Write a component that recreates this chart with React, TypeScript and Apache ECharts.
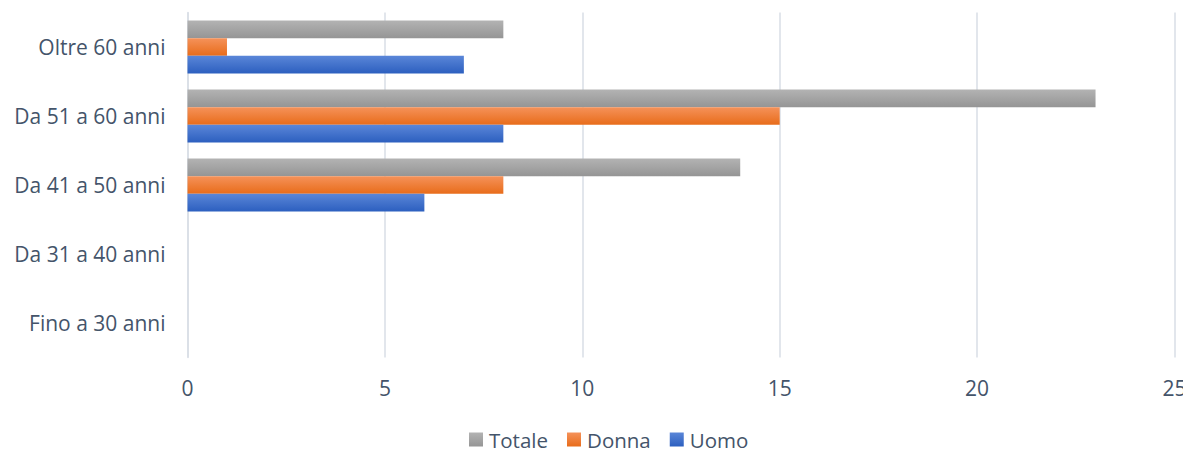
import React, { useEffect, useRef } from "react";
import * as echarts from "echarts";

const categories = ["Fino a 30 anni", "Da 31 a 40 anni", "Da 41 a 50 anni", "Da 51 a 60 anni", "Oltre 60 anni"];
const uomo = [0, 0, 6, 8, 7];
const donna = [0, 0, 8, 15, 1];
const totale = [0, 0, 14, 23, 8];
const xTicks = { min: 0, max: 25, interval: 5 };

const FONT = "'Open Sans', 'Noto Sans', sans-serif";
const TEXT = "#44546a";
const FS = 21;

function grad(top: string, bottom: string) {
  return new echarts.graphic.LinearGradient(0, 0, 0, 1, [
    { offset: 0, color: top },
    { offset: 1, color: bottom },
  ]);
}

export default function App() {
  const ref = useRef<HTMLDivElement>(null);
  useEffect(() => {
    if (!ref.current) return;
    const chart = echarts.init(ref.current, undefined, { renderer: "svg" });
    chart.setOption({
      animation: false,
      grid: {
        left: 187.5,
        right: 8.5,
        top: 12.5,
        bottom: 94.5,
        containLabel: false,
        outerBoundsMode: "none",
      },
      legend: {
        top: 429,
        left: 469,
        padding: 0,
        data: ["Totale", "Donna", "Uomo"],
        icon: "rect",
        itemWidth: 14,
        itemHeight: 14,
        itemGap: 19,
        textStyle: { color: TEXT, fontFamily: FONT, fontSize: 20.5, lineHeight: 20, padding: [0, 0, 0, 1] },
      },
      xAxis: {
        type: "value",
        min: xTicks.min,
        max: xTicks.max,
        interval: xTicks.interval,
        axisLine: { show: false },
        axisTick: { show: false },
        splitLine: { lineStyle: { color: "#d9dee6", width: 1.5 } },
        axisLabel: { color: TEXT, fontFamily: FONT, fontSize: FS, margin: 20 },
      },
      yAxis: {
        type: "category",
        data: categories,
        axisLine: { show: true, lineStyle: { color: "#d9dee6", width: 1.5 } },
        axisTick: { show: false },
        axisLabel: { color: TEXT, fontFamily: FONT, fontSize: FS, margin: 22 },
      },
      series: [
        {
          name: "Totale",
          type: "bar",
          data: totale,
          barGap: "0%",
          barCategoryGap: "23%",
          itemStyle: { color: grad("#b3b3b3", "#959595") },
        },
        {
          name: "Donna",
          type: "bar",
          data: donna,
          barGap: "0%",
          barCategoryGap: "23%",
          itemStyle: { color: grad("#f5925a", "#e86c1a") },
        },
        {
          name: "Uomo",
          type: "bar",
          data: uomo,
          barGap: "0%",
          barCategoryGap: "23%",
          itemStyle: { color: grad("#5a86d8", "#2c5fbf") },
        },
      ],
    });
    return () => chart.dispose();
  }, []);
  return <div ref={ref} style={{ width: 1183, height: 452, position: "absolute", left: 0, top: 0 }} />;
}
